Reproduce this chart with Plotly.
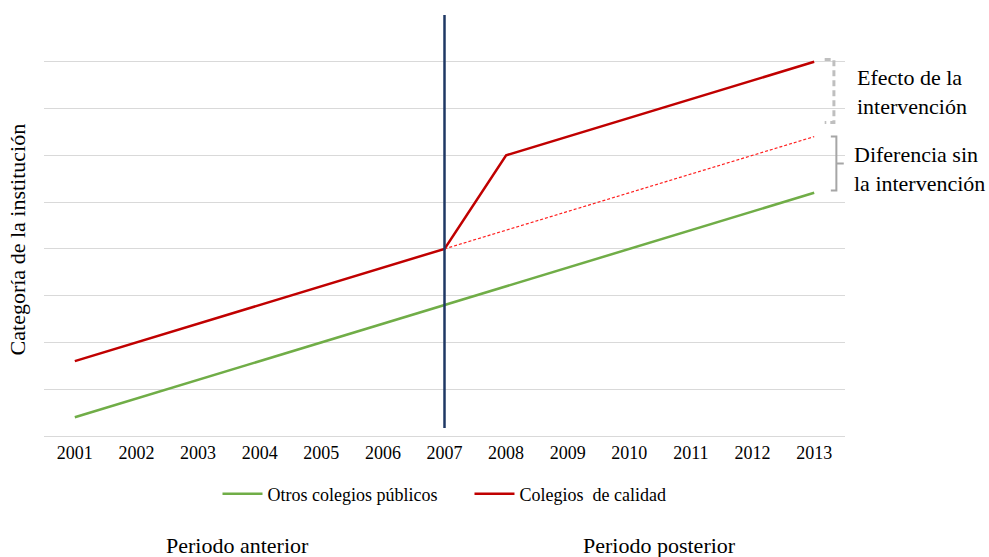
import plotly.graph_objects as go

years = list(range(2001, 2014))
otros = [0.4, 0.8, 1.2, 1.6, 2.0, 2.4, 2.8, 3.2, 3.6, 4.0, 4.4, 4.8, 5.2]
calidad = [1.6, 2.0, 2.4, 2.8, 3.2, 3.6, 4.0, 6.0, 6.4, 6.8, 7.2, 7.6, 8.0]
sin_interv_years = [2007, 2013]
sin_interv = [4.0, 6.4]
interv_year = 2007
interv_span = [0.17, 9.0]

FONT = "'Liberation Serif', 'Times New Roman', Times, serif"
NB = "\u00a0"

fig = go.Figure()
fig.add_trace(go.Scatter(x=years, y=otros, mode="lines", name="Otros colegios públicos" + NB * 6,
                         line=dict(color="#70AD47", width=2.5)))
fig.add_trace(go.Scatter(x=years, y=calidad, mode="lines", name="Colegios  de calidad",
                         line=dict(color="#C00000", width=2.5)))
fig.add_trace(go.Scatter(x=sin_interv_years, y=sin_interv, mode="lines", showlegend=False,
                         line=dict(color="#FF2020", width=1.2, dash="3px,2px")))
fig.add_trace(go.Scatter(x=[interv_year, interv_year], y=interv_span, mode="lines", showlegend=False,
                         line=dict(color="#1F3864", width=2.5)))

# braces built from data end values
x_end = years[-1]
top1, bot1 = calidad[-1] + 0.05, sin_interv[-1] + 0.3
top2, bot2 = sin_interv[-1], otros[-1] + 0.05
bx0, bx1 = x_end + 0.17, x_end + 0.32
fig.add_shape(type="path", xref="x", yref="y",
              path=f"M {bx0},{top1} L {bx1},{top1} L {bx1},{bot1} L {bx0},{bot1}",
              line=dict(color="#BFBFBF", width=3, dash="6px,4px"))
cx0, cx1, cx2 = x_end + 0.27, x_end + 0.36, x_end + 0.48
mid2 = (top2 + bot2) / 2
fig.add_shape(type="path", xref="x", yref="y",
              path=f"M {cx0},{top2} L {cx1},{top2} L {cx1},{bot2} L {cx0},{bot2} M {cx1},{mid2} L {cx2},{mid2}",
              line=dict(color="#A6A6A6", width=2))

ann = [
    dict(text="Efecto de la<br>intervención", x=1.013, y=(top1 + bot1) / 2 / 9, xanchor="left", yanchor="middle", size=22, yshift=-1),
    dict(text="Diferencia sin<br>la intervención", x=1.009, y=mid2 / 9, xanchor="left", yanchor="middle", size=22, yshift=-5),
    dict(text="Categoría de la institución", x=-0.033, y=0.466, xanchor="center", yanchor="middle", textangle=-90, size=22, yshift=0),
    dict(text="Periodo anterior", x=0.242, y=-0.259, xanchor="center", yanchor="middle", size=22, yshift=0),
    dict(text="Periodo posterior", x=0.769, y=-0.259, xanchor="center", yanchor="middle", size=22, yshift=0),
]
for a in ann:
    size = a.pop("size")
    fig.add_annotation(xref="paper", yref="paper", showarrow=False, align="left",
                       font=dict(family=FONT, size=size, color="#000000"), **a)

fig.update_layout(
    width=989, height=557,
    margin=dict(l=44, r=144, t=15, b=121),
    plot_bgcolor="white", paper_bgcolor="white",
    font=dict(family=FONT, color="#000000"),
    showlegend=True,
    legend=dict(orientation="h", x=0.5, xanchor="center", y=-0.138, yanchor="middle",
                font=dict(family=FONT, size=18, color="#000000"), itemwidth=40),
)
fig.update_xaxes(range=[2000.5, 2013.5], tickvals=years, ticktext=[str(y) for y in years],
                 showgrid=False, zeroline=False, showline=True, linecolor="#D9D9D9", linewidth=1,
                 tickfont=dict(family=FONT, size=18, color="#000000"), ticks="")
fig.update_yaxes(range=[0, 9], dtick=1, showticklabels=False, showgrid=True, gridcolor="#D9D9D9",
                 gridwidth=1, zeroline=False, showline=False)

fig.write_html("out.html")
